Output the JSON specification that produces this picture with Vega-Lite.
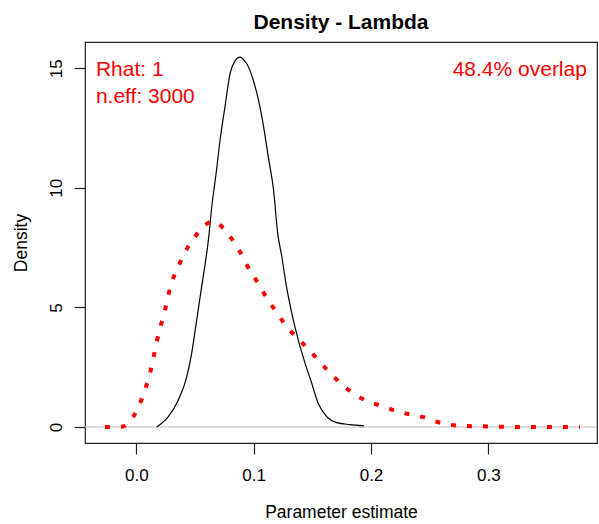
{
  "$schema": "https://vega.github.io/schema/vega-lite/v6.json",
  "width": 512,
  "height": 401,
  "autosize": {"type": "none"},
  "padding": {"left": 85, "top": 42, "right": 2, "bottom": 81},
  "background": "white",
  "config": {
    "font": "Liberation Sans",
    "view": {"stroke": "#222222", "strokeWidth": 1.2},
    "axis": {"grid": false, "domain": false, "tickColor": "#222222", "tickWidth": 1.2, "tickSize": 11, "labelColor": "#000000", "titleColor": "#000000", "labelFontSize": 17, "titleFontSize": 17.5, "titleFontWeight": "normal", "labelFont": "Liberation Sans", "titleFont": "Liberation Sans"}
  },
  "title": {"text": "Density - Lambda", "fontSize": 21, "fontWeight": "bold", "font": "Liberation Sans", "color": "#000000", "anchor": "middle", "frame": "group", "offset": 9},
  "datasets": {
    "curves": [
      {"series": "posterior", "x": 0.0174, "density": 0.0},
      {"series": "posterior", "x": 0.0273, "density": 0.43},
      {"series": "posterior", "x": 0.0358, "density": 1.13},
      {"series": "posterior", "x": 0.043, "density": 2.1},
      {"series": "posterior", "x": 0.0472, "density": 3.08},
      {"series": "posterior", "x": 0.0515, "density": 4.48},
      {"series": "posterior", "x": 0.0557, "density": 5.87},
      {"series": "posterior", "x": 0.06, "density": 7.27},
      {"series": "posterior", "x": 0.0614, "density": 7.8},
      {"series": "posterior", "x": 0.0643, "density": 9.2},
      {"series": "posterior", "x": 0.068, "density": 10.6},
      {"series": "posterior", "x": 0.0714, "density": 12.0},
      {"series": "posterior", "x": 0.0756, "density": 13.4},
      {"series": "posterior", "x": 0.08, "density": 14.8},
      {"series": "posterior", "x": 0.084, "density": 15.3},
      {"series": "posterior", "x": 0.0884, "density": 15.47},
      {"series": "posterior", "x": 0.0925, "density": 15.3},
      {"series": "posterior", "x": 0.094, "density": 15.2},
      {"series": "posterior", "x": 0.0997, "density": 14.5},
      {"series": "posterior", "x": 0.104, "density": 13.7},
      {"series": "posterior", "x": 0.108, "density": 12.7},
      {"series": "posterior", "x": 0.1125, "density": 11.3},
      {"series": "posterior", "x": 0.117, "density": 9.9},
      {"series": "posterior", "x": 0.1205, "density": 8.1},
      {"series": "posterior", "x": 0.124, "density": 7.13},
      {"series": "posterior", "x": 0.128, "density": 5.87},
      {"series": "posterior", "x": 0.1325, "density": 4.76},
      {"series": "posterior", "x": 0.138, "density": 3.64},
      {"series": "posterior", "x": 0.1438, "density": 2.67},
      {"series": "posterior", "x": 0.1495, "density": 1.83},
      {"series": "posterior", "x": 0.155, "density": 0.99},
      {"series": "posterior", "x": 0.1623, "density": 0.43},
      {"series": "posterior", "x": 0.1708, "density": 0.18},
      {"series": "posterior", "x": 0.182, "density": 0.1},
      {"series": "posterior", "x": 0.194, "density": 0.05},
      {"series": "prior", "x": -0.0267, "density": 0.0},
      {"series": "prior", "x": -0.0125, "density": 0.01},
      {"series": "prior", "x": -0.0026, "density": 0.43},
      {"series": "prior", "x": 0.0032, "density": 0.99},
      {"series": "prior", "x": 0.0074, "density": 1.55},
      {"series": "prior", "x": 0.0117, "density": 2.25},
      {"series": "prior", "x": 0.0145, "density": 2.87},
      {"series": "prior", "x": 0.0174, "density": 3.57},
      {"series": "prior", "x": 0.0208, "density": 4.23},
      {"series": "prior", "x": 0.0245, "density": 4.9},
      {"series": "prior", "x": 0.0273, "density": 5.52},
      {"series": "prior", "x": 0.031, "density": 6.15},
      {"series": "prior", "x": 0.0358, "density": 6.71},
      {"series": "prior", "x": 0.0415, "density": 7.31},
      {"series": "prior", "x": 0.0486, "density": 7.85},
      {"series": "prior", "x": 0.0557, "density": 8.31},
      {"series": "prior", "x": 0.0656, "density": 8.6},
      {"series": "prior", "x": 0.0742, "density": 8.31},
      {"series": "prior", "x": 0.0813, "density": 7.87},
      {"series": "prior", "x": 0.0884, "density": 7.33},
      {"series": "prior", "x": 0.0941, "density": 6.78},
      {"series": "prior", "x": 0.1012, "density": 6.22},
      {"series": "prior", "x": 0.107, "density": 5.73},
      {"series": "prior", "x": 0.114, "density": 5.19},
      {"series": "prior", "x": 0.121, "density": 4.69},
      {"series": "prior", "x": 0.128, "density": 4.2},
      {"series": "prior", "x": 0.1367, "density": 3.75},
      {"series": "prior", "x": 0.1453, "density": 3.33},
      {"series": "prior", "x": 0.1538, "density": 2.87},
      {"series": "prior", "x": 0.1623, "density": 2.41},
      {"series": "prior", "x": 0.171, "density": 1.97},
      {"series": "prior", "x": 0.179, "density": 1.62},
      {"series": "prior", "x": 0.188, "density": 1.31},
      {"series": "prior", "x": 0.198, "density": 1.06},
      {"series": "prior", "x": 0.209, "density": 0.88},
      {"series": "prior", "x": 0.2206, "density": 0.68},
      {"series": "prior", "x": 0.232, "density": 0.54},
      {"series": "prior", "x": 0.2446, "density": 0.41},
      {"series": "prior", "x": 0.256, "density": 0.22},
      {"series": "prior", "x": 0.268, "density": 0.09},
      {"series": "prior", "x": 0.28, "density": 0.04},
      {"series": "prior", "x": 0.295, "density": 0.03},
      {"series": "prior", "x": 0.31, "density": 0.01},
      {"series": "prior", "x": 0.33, "density": 0.0},
      {"series": "prior", "x": 0.35, "density": 0.0},
      {"series": "prior", "x": 0.378, "density": 0.0}
    ]
  },
  "layer": [
    {
      "data": {"values": [{"level": 0}]},
      "mark": {"type": "rule", "color": "#BEBEBE", "strokeWidth": 1.2},
      "encoding": {
        "y": {"field": "level", "type": "quantitative", "scale": {"domain": [-0.669, 16.1], "nice": false, "zero": false},
          "axis": {"values": [0, 5, 10, 15], "title": "Density", "labelAngle": -90, "labelAlign": "center", "labelBaseline": "alphabetic", "labelPadding": 13, "titleAngle": -90, "titleAlign": "center", "titleBaseline": "alphabetic", "titleX": -59, "titleY": 200.5}}
      }
    },
    {
      "data": {"name": "curves"},
      "transform": [{"filter": "datum.series === 'posterior'"}],
      "mark": {"type": "line", "color": "#000000", "strokeWidth": 1.2, "interpolate": "monotone"},
      "encoding": {
        "x": {"field": "x", "type": "quantitative", "scale": {"domain": [-0.0437, 0.3926], "nice": false, "zero": false},
          "axis": {"values": [0, 0.1, 0.2, 0.3], "format": ".1f", "title": "Parameter estimate", "labelPadding": 13, "titleBaseline": "alphabetic", "titleY": 74}},
        "y": {"field": "density", "type": "quantitative"}
      }
    },
    {
      "data": {"name": "curves"},
      "transform": [{"filter": "datum.series === 'prior'"}],
      "mark": {"type": "line", "color": "#FF0000", "strokeWidth": 4, "strokeDash": [5, 11], "strokeCap": "butt", "interpolate": "monotone"},
      "encoding": {
        "x": {"field": "x", "type": "quantitative"},
        "y": {"field": "density", "type": "quantitative"}
      }
    },
    {
      "data": {"values": [{"label": "Rhat: 1"}]},
      "mark": {"type": "text", "color": "#FF0000", "fontSize": 21, "align": "left", "baseline": "alphabetic", "font": "Liberation Sans"},
      "encoding": {
        "x": {"datum": -0.0344, "type": "quantitative"},
        "y": {"datum": 14.66, "type": "quantitative"},
        "text": {"field": "label"}
      }
    },
    {
      "data": {"values": [{"label": "n.eff: 3000"}]},
      "mark": {"type": "text", "color": "#FF0000", "fontSize": 21, "align": "left", "baseline": "alphabetic", "font": "Liberation Sans"},
      "encoding": {
        "x": {"datum": -0.0344, "type": "quantitative"},
        "y": {"datum": 13.54, "type": "quantitative"},
        "text": {"field": "label"}
      }
    },
    {
      "data": {"values": [{"label": "48.4% overlap"}]},
      "mark": {"type": "text", "color": "#FF0000", "fontSize": 21, "align": "right", "baseline": "alphabetic", "font": "Liberation Sans"},
      "encoding": {
        "x": {"datum": 0.384, "type": "quantitative"},
        "y": {"datum": 14.66, "type": "quantitative"},
        "text": {"field": "label"}
      }
    }
  ]
}
